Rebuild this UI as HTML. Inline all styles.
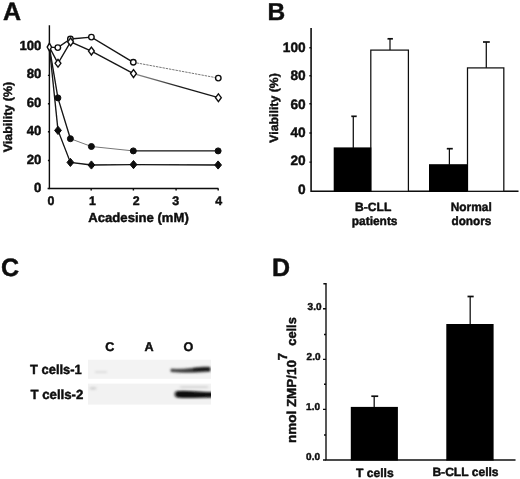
<!DOCTYPE html>
<html>
<head>
<meta charset="utf-8">
<title>Figure</title>
<style>
html,body{margin:0;padding:0;background:#fff;}
body{width:520px;height:479px;overflow:hidden;font-family:"Liberation Sans",sans-serif;}
svg{display:block;}
text{font-family:"Liberation Sans",sans-serif;font-weight:bold;fill:#0c0c0c;stroke:#0c0c0c;stroke-width:0.45;stroke-linejoin:round;text-rendering:geometricPrecision;}
.ax{stroke:#0a0a0a;stroke-width:1.4;fill:none;}
.axb{stroke:#080808;stroke-width:1.55;fill:none;}
.ln{stroke:#141414;stroke-width:1.35;fill:none;}
.lnl{stroke:#777;stroke-width:1;fill:none;}
.oc{fill:#fff;stroke:#111;stroke-width:1.4;}
.fc{fill:#0c0c0c;stroke:#0c0c0c;stroke-width:1;}
.bk{fill:#060606;stroke:none;}
.wb{fill:#fff;stroke:#101010;stroke-width:1.25;}
.eb{stroke:#101010;stroke-width:1.25;fill:none;}
.cap{stroke:#101010;stroke-width:1.7;fill:none;}
</style>
</head>
<body>
<svg width="520" height="479" viewBox="0 0 520 479">
<defs>
<filter id="bl" x="-20%" y="-100%" width="140%" height="300%"><feGaussianBlur stdDeviation="1.1 0.9"/></filter>
<filter id="bl2" x="-20%" y="-100%" width="140%" height="300%"><feGaussianBlur stdDeviation="1.4 1.3"/></filter>
<filter id="soft" x="0" y="0" width="520" height="479" filterUnits="userSpaceOnUse"><feGaussianBlur stdDeviation="0.35"/></filter>
<filter id="sb" x="-5%" y="-20%" width="110%" height="140%"><feGaussianBlur stdDeviation="0.5"/></filter>
<linearGradient id="g1" gradientUnits="userSpaceOnUse" x1="133" y1="0" x2="218" y2="0"><stop offset="0" stop-color="#8a8a8a"/><stop offset="0.25" stop-color="#6a6a6a"/><stop offset="0.55" stop-color="#1c1c1c"/><stop offset="1" stop-color="#141414"/></linearGradient>
<clipPath id="cp1"><rect x="88" y="359.7" width="123" height="19.1"/></clipPath>
<clipPath id="cp2"><rect x="88" y="383.6" width="123" height="21"/></clipPath>
</defs>
<rect x="0" y="0" width="520" height="479" fill="#fff"/>
<g filter="url(#soft)">

<!-- ================= Panel A ================= -->
<g id="panelA">
<text x="3.1" y="19.8" font-size="25">A</text>
<!-- axes -->
<path class="ax" d="M49.4 25.2 V188.5 H218.4"/>
<path class="ax" d="M47.6 188.5 h2 M47.9 47.3 h1.5 M47.9 75.4 h1.5 M47.9 103.8 h1.5 M47.9 131.8 h1.5 M47.9 160.5 h1.5 M91.2 188.5 v2 M133.4 188.5 v2 M176.1 188.5 v2 M218.2 188.5 v2"/>
<!-- y tick labels -->
<g font-size="13.2" text-anchor="end">
<text x="41.4" y="49.6">100</text>
<text x="41.4" y="78.4">80</text>
<text x="41.4" y="107.2">60</text>
<text x="41.4" y="135">40</text>
<text x="41.4" y="163.7">20</text>
<text x="41.4" y="192">0</text>
</g>
<!-- x tick labels -->
<g font-size="12.4" text-anchor="middle">
<text x="50.9" y="205.1">0</text>
<text x="92.4" y="205.1">1</text>
<text x="136.2" y="205.1">2</text>
<text x="175.8" y="205.1">3</text>
<text x="218.6" y="205.1">4</text>
</g>
<text x="88.3" y="221.7" font-size="13" textLength="100.5" lengthAdjust="spacingAndGlyphs">Acadesine (mM)</text>
<text transform="translate(11.9 152.2) rotate(-90)" font-size="12.2" textLength="70.3" lengthAdjust="spacingAndGlyphs">Viability (%)</text>
<!-- series lines -->
<polyline class="ln" points="49.4,47.1 57.8,47.6 70.4,39 91.4,37.1 133.3,62.3"/>
<polyline class="lnl" stroke="#4a4a4a" stroke-dasharray="2.4 0.9" points="133.3,62.3 218.3,78.1"/>
<polyline class="ln" points="49.4,47.1 58,63.3 70.6,41.9 91.4,51.1 133.5,73.6"/>
<polyline class="ln" stroke="url(#g1)" style="stroke:url(#g1)" points="133.5,73.6 218.4,97.7"/>
<polyline class="ln" points="49.4,47.1 57.9,97.9 70.4,138.7"/>
<polyline class="lnl" points="70.4,138.7 91.4,146.5 133.3,150.9"/>
<polyline class="ln" points="133.3,150.9 218.1,150.9"/>
<polyline class="ln" points="49.4,47.1 58,130.4 70.4,162.4 91.4,165 133.5,164.6 218.1,165"/>
<!-- open circles -->
<g class="oc">
<circle cx="57.8" cy="47.6" r="2.75"/>
<circle cx="70.4" cy="39" r="2.75"/>
<circle cx="91.4" cy="37.1" r="2.75"/>
<circle cx="133.3" cy="62.3" r="2.75"/>
<circle cx="218.3" cy="78.1" r="2.75"/>
</g>
<!-- open diamonds -->
<g class="oc">
<path d="M49.4 43.2 l2.2 3.9 l-2.2 3.9 l-2.2 -3.9z"/>
<path d="M58 59.4 l2.9 3.9 l-2.9 3.9 l-2.9 -3.9z"/>
<path d="M70.6 38 l2.9 3.9 l-2.9 3.9 l-2.9 -3.9z"/>
<path d="M91.4 47.2 l2.9 3.9 l-2.9 3.9 l-2.9 -3.9z"/>
<path d="M133.5 69.7 l2.9 3.9 l-2.9 3.9 l-2.9 -3.9z"/>
<path d="M218.4 93.8 l2.9 3.9 l-2.9 3.9 l-2.9 -3.9z"/>
</g>
<!-- filled circles -->
<g class="fc">
<circle cx="57.9" cy="97.9" r="3"/>
<circle cx="70.4" cy="138.7" r="3"/>
<circle cx="91.4" cy="146.5" r="3"/>
<circle cx="133.3" cy="150.9" r="3"/>
<circle cx="218.1" cy="150.9" r="3"/>
</g>
<!-- filled diamonds -->
<g class="fc">
<path d="M58 126.3 l3.4 4.1 l-3.4 4.1 l-3.4 -4.1z"/>
<path d="M70.4 158.3 l3.4 4.1 l-3.4 4.1 l-3.4 -4.1z"/>
<path d="M91.4 160.9 l3.4 4.1 l-3.4 4.1 l-3.4 -4.1z"/>
<path d="M133.5 160.5 l3.4 4.1 l-3.4 4.1 l-3.4 -4.1z"/>
<path d="M218.1 160.9 l3.4 4.1 l-3.4 4.1 l-3.4 -4.1z"/>
</g>
</g>

<!-- ================= Panel B ================= -->
<g id="panelB">
<text x="267.4" y="19.7" font-size="24.5">B</text>
<path class="axb" d="M311.1 28.1 V191.3 H518.5"/>
<path class="ax" d="M309.4 47.7 h1.7 M309.4 75.8 h1.7 M309.4 103.8 h1.7 M309.4 133 h1.7 M309.4 162.1 h1.7"/>
<g font-size="13.7" text-anchor="end">
<text x="305.7" y="52.3">100</text>
<text x="305.7" y="80.4">80</text>
<text x="305.7" y="108.6">60</text>
<text x="305.7" y="137.3">40</text>
<text x="305.7" y="165.4">20</text>
<text x="305.7" y="193.7">0</text>
</g>
<text transform="translate(278.3 142.7) rotate(-90)" font-size="12" textLength="69.5" lengthAdjust="spacingAndGlyphs">Viability (%)</text>
<!-- error bars -->
<path class="eb" d="M353.3 148 V116.3"/><path class="cap" d="M351.3 116.3 h5.4"/>
<path class="eb" d="M390 50 V38.8"/><path class="cap" d="M387.5 38.8 h5.4"/>
<path class="eb" d="M449.4 165 V148.7"/><path class="cap" d="M446.8 148.7 h6"/>
<path class="eb" d="M486.3 68 V42"/><path class="cap" d="M483 42 h6.8"/>
<!-- bars -->
<rect class="wb" x="370.8" y="50.1" width="37.6" height="141.2"/>
<rect class="bk" x="333.7" y="147.4" width="37.6" height="44"/>
<rect class="wb" x="467.5" y="67.9" width="36.3" height="123.4"/>
<rect class="bk" x="429" y="164.2" width="39" height="27.2"/>
<g font-size="12">
<text x="355" y="211" textLength="36.3" lengthAdjust="spacingAndGlyphs">B-CLL</text>
<text x="351.8" y="225.1" textLength="45.7" lengthAdjust="spacingAndGlyphs">patients</text>
<text x="450.7" y="211.3" textLength="41" lengthAdjust="spacingAndGlyphs">Normal</text>
<text x="451.5" y="225.4" textLength="39.8" lengthAdjust="spacingAndGlyphs">donors</text>
</g>
</g>

<!-- ================= Panel C ================= -->
<g id="panelC">
<text x="0.9" y="276.4" font-size="25">C</text>
<g font-size="12.6" text-anchor="middle">
<text x="109.8" y="350.5">C</text>
<text x="149" y="350.5">A</text>
<text x="188.3" y="350.5">O</text>
</g>
<text x="30" y="374.4" font-size="13.3" textLength="51.8" lengthAdjust="spacingAndGlyphs">T cells-1</text>
<text x="30.4" y="398.8" font-size="13.3" textLength="53" lengthAdjust="spacingAndGlyphs">T cells-2</text>
<rect x="88" y="359.7" width="123" height="19.1" fill="#f3f3f3" filter="url(#sb)"/>
<rect x="88" y="383.6" width="123" height="21" fill="#f2f2f2" filter="url(#sb)"/>
<g clip-path="url(#cp1)">
<g filter="url(#bl)" transform="translate(0 0.7)">
<path d="M171 368.4 C178 368.9 186 368.6 194 367.4 C200 366.4 206 366.2 210 366.6 L210 370.6 C206 371.1 200 371.3 194 371.5 C186 371.8 178 371.5 171 370.9 Z" fill="#3c3c3c" stroke="#3c3c3c" stroke-width="0.8" stroke-linejoin="round"/>
<path d="M194 368.9 C200 368.3 205 368.2 209 368.5" stroke="#101010" stroke-width="2.8" fill="none" stroke-linecap="round"/>
<path d="M95 371.4 h12" stroke="#d6d6d6" stroke-width="1.5" fill="none"/>
</g>
</g>
<g clip-path="url(#cp2)">
<g filter="url(#bl2)" transform="translate(0 0.3)">
<path d="M177 391.4 C183 390.8 190 391.2 198 392 C204 392.5 210 392.6 216 392.6 L216 396.4 C208 396.6 200 396.8 192 397 C186 397.1 181 397 177 396.5 C175 395.6 175 392.4 177 391.4 Z" fill="#0a0a0a" stroke="#0a0a0a" stroke-width="1.4" stroke-linejoin="round"/>
<path d="M180 386.8 h28" stroke="#c8c8c8" stroke-width="1.4" fill="none"/>
<path d="M90 388 h6" stroke="#d4d4d4" stroke-width="3" fill="none"/>
</g>
</g>
</g>

<!-- ================= Panel D ================= -->
<g id="panelD">
<text x="271.9" y="276.3" font-size="25">D</text>
<path class="ax" d="M323.4 283.8 H326 V460 H515.5"/>
<path class="ax" d="M323 308.7 h3 M324 334.5 h2 M323 359.4 h3 M324 384.3 h2 M323 409.4 h3 M324 435 h2 M323 460 h3"/>
<g font-size="10" text-anchor="end">
<text x="321.5" y="309.7">3.0</text>
<text x="320.5" y="360.1">2.0</text>
<text x="320" y="410.1">1.0</text>
<text x="320" y="460.4">0.0</text>
</g>
<text transform="translate(295.7 443) rotate(-90)" font-size="13" textLength="83" lengthAdjust="spacingAndGlyphs">nmol ZMP/10</text>
<text transform="translate(286.5 360.3) rotate(-90)" font-size="13">7</text>
<text transform="translate(296.2 345.7) rotate(-90)" font-size="13" textLength="28.5" lengthAdjust="spacingAndGlyphs">cells</text>
<path class="eb" d="M374.2 407 V396.2"/><path class="cap" d="M371.3 396.2 h6.9"/>
<path class="eb" d="M470.2 324.5 V296.5"/><path class="cap" d="M467.5 296.5 h6.2"/>
<rect class="bk" x="350.8" y="406.9" width="47.1" height="53.6"/>
<rect class="bk" x="446.3" y="324" width="47.3" height="136.5"/>
<g font-size="12">
<text x="356" y="476.9" textLength="37.6" lengthAdjust="spacingAndGlyphs">T cells</text>
<text x="432.4" y="476.3" textLength="66.2" lengthAdjust="spacingAndGlyphs">B-CLL cells</text>
</g>
</g>
</g>
</svg>
</body>
</html>
